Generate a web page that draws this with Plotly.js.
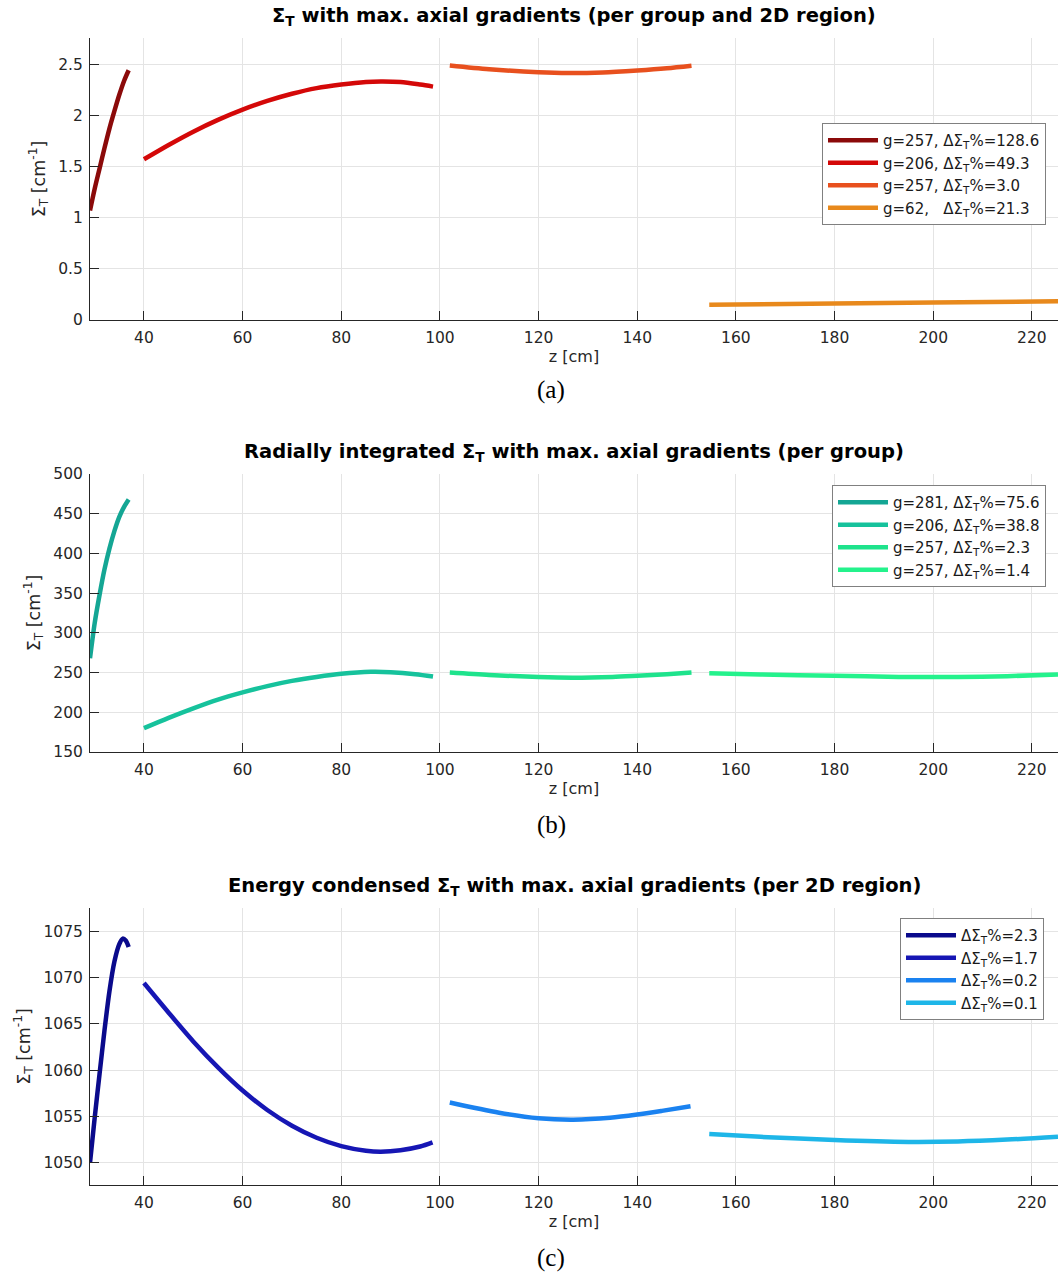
<!DOCTYPE html>
<html>
<head>
<meta charset="utf-8">
<script src="https://cdn.plot.ly/plotly-3.0.1.min.js"></script>
<style>html,body{margin:0;padding:0;background:#fff;}#chart{width:1058px;height:1275px;}</style>
</head>
<body>
<div id="chart"></div>
<script>
// ---- Panel (a): Sigma_T with max axial gradients (per group and 2D region)
const zA1 = [29.06, 30, 31, 32, 33, 34, 35, 36, 36.9];
const sA1 = [1.07, 1.28, 1.48, 1.68, 1.87, 2.04, 2.20, 2.34, 2.44];
const zA2 = [40, 45, 50, 55, 60, 65, 70, 75, 80, 85, 88, 92, 96, 98.6];
const sA2 = [1.57, 1.71, 1.84, 1.955, 2.055, 2.14, 2.21, 2.265, 2.30, 2.325, 2.33, 2.325, 2.30, 2.28];
const zA3 = [102, 110, 120, 126, 133, 140, 146, 151];
const sA3 = [2.487, 2.45, 2.42, 2.412, 2.418, 2.438, 2.46, 2.485];
const zA4 = [154.6, 180, 200, 225.3];
const sA4 = [0.150, 0.160, 0.170, 0.182];
const namesA = ["g=257, ΔΣ<sub>T</sub>%=128.6", "g=206, ΔΣ<sub>T</sub>%=49.3", "g=257, ΔΣ<sub>T</sub>%=3.0", "g=62,   ΔΣ<sub>T</sub>%=21.3"];
const colorsA = ["#8b0a0a", "#d40808", "#e8501e", "#e8891c"];

// ---- Panel (b): radially integrated Sigma_T (per group)
const zB1 = [29.06, 30, 31, 32, 33, 34, 35, 36, 36.9];
const sB1 = [268, 312, 348, 380, 406, 428, 446, 459, 468];
const zB2 = [40, 45, 50, 55, 60, 65, 70, 75, 80, 86, 90, 95, 98.6];
const sB2 = [180, 193, 205, 216, 225, 233, 239.5, 244.5, 248.5, 251, 250.5, 248, 245];
const zB3 = [102, 110, 120, 127, 135, 140, 146, 151];
const sB3 = [250, 247, 244.3, 243.5, 244.5, 246, 248, 250];
const zB4 = [154.6, 165, 180, 193, 205, 215, 225.3];
const sB4 = [249, 247.5, 246, 244.5, 244.5, 245.5, 247.5];
const namesB = ["g=281, ΔΣ<sub>T</sub>%=75.6", "g=206, ΔΣ<sub>T</sub>%=38.8", "g=257, ΔΣ<sub>T</sub>%=2.3", "g=257, ΔΣ<sub>T</sub>%=1.4"];
const colorsB = ["#14a694", "#16c29c", "#1ee38c", "#24f28c"];

// ---- Panel (c): energy condensed Sigma_T (per 2D region)
const zC1 = [29.06, 30, 31, 32, 33, 34, 35, 35.7, 36.3, 36.9];
const sC1 = [1050, 1054.8, 1059.6, 1064.3, 1068.5, 1071.7, 1073.6, 1074.2, 1074.0, 1073.3];
const zC2 = [40, 45, 50, 55, 60, 65, 70, 75, 80, 85, 88, 92, 96, 98.5];
const sC2 = [1069.4, 1066.2, 1063.1, 1060.3, 1057.8, 1055.7, 1054.0, 1052.7, 1051.8, 1051.3, 1051.2, 1051.35, 1051.75, 1052.2];
const zC3 = [102, 112, 120, 127, 134.5, 140, 145, 150.8];
const sC3 = [1056.5, 1055.4, 1054.8, 1054.65, 1054.85, 1055.2, 1055.6, 1056.1];
const zC4 = [154.6, 165, 180, 195, 205, 215, 225.3];
const sC4 = [1053.1, 1052.8, 1052.45, 1052.25, 1052.3, 1052.5, 1052.8];
const namesC = ["ΔΣ<sub>T</sub>%=2.3", "ΔΣ<sub>T</sub>%=1.7", "ΔΣ<sub>T</sub>%=0.2", "ΔΣ<sub>T</sub>%=0.1"];
const colorsC = ["#0a0a8c", "#1616b4", "#1a82f0", "#1eb6e8"];

const titles = [
  "<b>Σ<sub>T</sub> with max. axial gradients (per group and 2D region)</b>",
  "<b>Radially integrated Σ<sub>T</sub> with max. axial gradients (per group)</b>",
  "<b>Energy condensed Σ<sub>T</sub> with max. axial gradients (per 2D region)</b>"
];
const captions = ["(a)", "(b)", "(c)"];
const xTitle = "z [cm]";
const yTitle = "Σ<sub>T</sub> [cm<sup>-1</sup>]";

const W = 1058, H = 1275;
const FONT = "DejaVu Sans, sans-serif";
const TXT = "#262626";

const panels = [
  {z: [zA1, zA2, zA3, zA4], s: [sA1, sA2, sA3, sA4], n: namesA, c: colorsA},
  {z: [zB1, zB2, zB3, zB4], s: [sB1, sB2, sB3, sB4], n: namesB, c: colorsB},
  {z: [zC1, zC2, zC3, zC4], s: [sC1, sC2, sC3, sC4], n: namesC, c: colorsC}
];

const traces = [];
panels.forEach((p, pi) => {
  const sfx = pi === 0 ? "" : String(pi + 1);
  for (let k = 0; k < 4; k++) {
    traces.push({
      x: p.z[k], y: p.s[k], name: p.n[k], type: "scatter", mode: "lines",
      line: {color: p.c[k], width: 4.5, shape: "spline", smoothing: 0.8},
      xaxis: "x" + sfx, yaxis: "y" + sfx, legend: "legend" + sfx,
      hoverinfo: "skip"
    });
  }
});

// pixel geometry -> paper fractions
const fy = px => 1 - px / H;
const xDom = [90 / W, 1];
const yDoms = [[fy(320), fy(38)], [fy(752), fy(474)], [fy(1185), fy(908)]];
const yRanges = [[0, 2.755], [150, 500], [1047.6, 1077.5]];
const yDticks = [0.5, 50, 5];
const titleY = [17, 452, 886];
const capY = [390, 825, 1258];
const legPos = [[822, 123], [832, 485], [900, 918]];

const layout = {
  width: W, height: H,
  margin: {l: 0, r: 0, t: 0, b: 0},
  paper_bgcolor: "#fff", plot_bgcolor: "#fff",
  font: {family: FONT, color: TXT, size: 15},
  showlegend: true,
  annotations: []
};

for (let i = 0; i < 3; i++) {
  const sfx = i === 0 ? "" : String(i + 1);
  layout["xaxis" + sfx] = {
    domain: xDom, range: [29.06, 225.3], anchor: "y" + sfx,
    tick0: 0, dtick: 20,
    showline: true, linecolor: TXT, linewidth: 1,
    ticks: "inside", ticklen: 9, tickcolor: TXT, tickwidth: 1,
    showgrid: true, gridcolor: "#e4e4e4", gridwidth: 1, zeroline: false,
    tickfont: {family: FONT, size: 15.5, color: TXT},
    ticklabelstandoff: 3,
    title: {text: xTitle, font: {family: FONT, size: 16, color: TXT}, standoff: 4},
    fixedrange: true
  };
  layout["yaxis" + sfx] = {
    domain: yDoms[i], range: yRanges[i], anchor: "x" + sfx,
    tick0: 0, dtick: yDticks[i],
    showline: true, linecolor: TXT, linewidth: 1,
    ticks: "inside", ticklen: 9, tickcolor: TXT, tickwidth: 1,
    showgrid: true, gridcolor: "#e4e4e4", gridwidth: 1, zeroline: false,
    tickfont: {family: FONT, size: 15.5, color: TXT},
    ticklabelstandoff: 3,
    title: {text: yTitle, font: {family: FONT, size: 17.5, color: TXT}, standoff: 8},
    fixedrange: true
  };
  layout["legend" + sfx] = {
    x: legPos[i][0] / W, y: fy(legPos[i][1]), xanchor: "left", yanchor: "top",
    bgcolor: "#ffffff", bordercolor: "#808080", borderwidth: 1,
    font: {family: FONT, size: 15, color: "#1a1a1a"},
    itemwidth: 50, tracegroupgap: 0
  };
  layout.annotations.push({
    text: titles[i], xref: "paper", yref: "paper",
    x: (xDom[0] + xDom[1]) / 2, y: fy(titleY[i]), xanchor: "center", yanchor: "middle",
    showarrow: false, font: {family: FONT, size: 19.5, color: "#000"}
  });
  layout.annotations.push({
    text: captions[i], xref: "paper", yref: "paper",
    x: 551 / W, y: fy(capY[i]), xanchor: "center", yanchor: "middle",
    showarrow: false, font: {family: "Liberation Serif, DejaVu Serif, serif", size: 25, color: "#000"}
  });
}

Plotly.newPlot("chart", traces, layout, {displayModeBar: false, staticPlot: true});
</script>
</body>
</html>
